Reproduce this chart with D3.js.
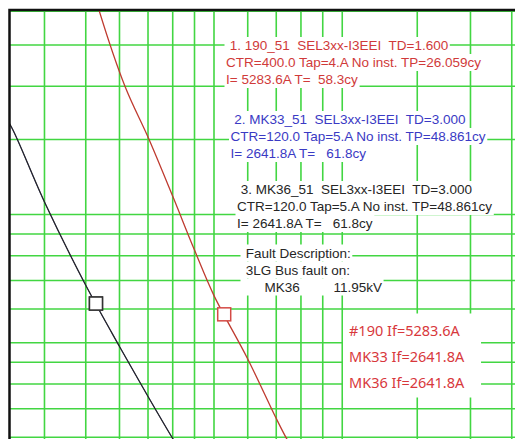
<!DOCTYPE html>
<html>
<head>
<meta charset="utf-8">
<script src="https://cdn.jsdelivr.net/npm/d3@7"></script>
<style>
  html, body { margin: 0; padding: 0; background: #fff; }
  svg { display: block; }
  text { white-space: pre; }
</style>
</head>
<body>
<svg id="chart"></svg>
<script>
// grid lines: current in A, time in cycles (log-log TCC)
const currentTicks = [2000, 2500, 3000, 3500, 4000, 4500, 5000, 6000, 7000, 8000, 9000, 10000, 15000, 20000, 25000];
const timeTicks = [300, 250, 200, 150, 100, 90, 80, 70, 60, 50, 45, 40, 35, 30];

// relay curves: [current A, time cy]
const curve190 = [[2620, 330], [2685, 302], [3090, 200], [3520, 150], [4005, 110], [4500, 82.5],
  [5000, 64.5], [6000, 45.8], [7000, 33.2], [7415, 29.7], [7700, 28]];
const curveMK33 = [[1600, 172], [1675, 160], [2000, 107], [2500, 68.2], [3000, 49], [3500, 37.4],
  [4000, 29.8], [4200, 27.6]];
const curveMK36 = [[1600, 172], [1675, 160], [2000, 107], [2500, 68.2], [3000, 49], [3500, 37.4],
  [4000, 29.8], [4200, 27.6]];

// operating points at the fault
const opCurrents = [5283.6, 2641.8, 2641.8];
const opTimes = [58.3, 61.8, 61.8];

const label190 = [" 1. 190_51  SEL3xx-I3EEI  TD=1.600", "CTR=400.0 Tap=4.A No inst. TP=26.059cy", "I= 5283.6A T=  58.3cy"];
const labelMK33 = [" 2. MK33_51  SEL3xx-I3EEI  TD=3.000", "CTR=120.0 Tap=5.A No inst. TP=48.861cy", "I= 2641.8A T=   61.8cy"];
const labelMK36 = [" 3. MK36_51  SEL3xx-I3EEI  TD=3.000", "CTR=120.0 Tap=5.A No inst. TP=48.861cy", "I= 2641.8A T=   61.8cy"];
const faultDesc = [" Fault Description:", " 3LG Bus fault on:", "      MK36         11.95kV"];
const faultCurrents = ["#190 If=5283.6A", "MK33 If=2641.8A", "MK36 If=2641.8A"];

const width = 515;
const height = 439;
const frame = { left: 9.5, top: 10 };
const colors = { red: "#bf3b30", blue: "#3a3ac4", black: "#262626", grid: "#42d642" };

const svg = d3.select("#chart").attr("width", width).attr("height", height);

const x = d3.scaleLog().domain([5000, 50000]).range([214, 640]);
const y = d3.scaleLog().domain([100, 1000]).range([214.5, 214.5 - 426]);

svg.append("defs").append("clipPath").attr("id", "plot")
  .append("rect")
  .attr("x", frame.left).attr("y", frame.top)
  .attr("width", width - frame.left).attr("height", height - frame.top);

const plot = svg.append("g").attr("clip-path", "url(#plot)");

// grid
plot.append("g").selectAll("line").data(currentTicks).join("line")
  .attr("x1", (d) => x(d)).attr("x2", (d) => x(d))
  .attr("y1", frame.top).attr("y2", height)
  .attr("stroke", colors.grid).attr("stroke-width", 1.6);

plot.append("g").selectAll("line").data(timeTicks).join("line")
  .attr("y1", (d) => y(d)).attr("y2", (d) => y(d))
  .attr("x1", frame.left).attr("x2", width)
  .attr("stroke", colors.grid).attr("stroke-width", 1.6);

// curves (MK33 sits under MK36, same settings)
const line = d3.line()
  .x((d) => x(d[0]))
  .y((d) => y(d[1]))
  .curve(d3.curveCatmullRom);

const curves = [
  { data: curve190, color: colors.red, w: 1.3 },
  { data: curveMK33, color: colors.blue, w: 0.8 },
  { data: curveMK36, color: colors.black, w: 1.3 },
];

plot.append("g").selectAll("path").data(curves).join("path")
  .attr("d", (d) => line(d.data))
  .attr("fill", "none")
  .attr("stroke", (d) => d.color)
  .attr("stroke-width", (d) => d.w);

// operating point markers
const size = 13;
plot.append("g").selectAll("rect").data(opCurrents).join("rect")
  .attr("x", (d) => x(d) - size / 2)
  .attr("y", (d, i) => y(opTimes[i]) - size / 2)
  .attr("width", size).attr("height", size)
  .attr("fill", "#fff")
  .attr("stroke", (d, i) => (i === 0 ? "#d44a45" : "#333"))
  .attr("stroke-width", 1.5);

// frame (left and top edges only, the rest is cropped)
svg.append("path")
  .attr("d", `M${frame.left},${height} V${frame.top} H${width}`)
  .attr("fill", "none")
  .attr("stroke", "#111")
  .attr("stroke-width", 2.5);

// text blocks with white backing per line
function drawBlock({ lines, left, top, step, color, font, size, pad }) {
  const g = svg.append("g");
  lines.forEach((t, i) => {
    const row = g.append("g");
    const rect = row.append("rect").attr("fill", "#fff");
    const txt = row.append("text")
      .attr("x", left)
      .attr("y", top + i * step)
      .attr("fill", color)
      .attr("font-family", font)
      .attr("font-size", size)
      .text(t);
    const b = txt.node().getBBox();
    rect.attr("x", b.x - pad).attr("y", b.y - 1)
      .attr("width", b.width + pad * 2).attr("height", b.height + 2);
  });
}

const arial = "'Liberation Sans', Arial, sans-serif";
drawBlock({ lines: label190, left: 226, top: 50, step: 17, color: "#d03a3a", font: arial, size: 13.5, pad: 1.5 });
drawBlock({ lines: labelMK33, left: 230.5, top: 124, step: 17, color: colors.blue, font: arial, size: 13.5, pad: 1.5 });
drawBlock({ lines: labelMK36, left: 237, top: 194, step: 17, color: colors.black, font: arial, size: 13.5, pad: 1.5 });
drawBlock({ lines: faultDesc, left: 242, top: 257.5, step: 17, color: colors.black, font: arial, size: 13.5, pad: 1.5 });

// fault current note
const note = svg.append("g");
const noteBox = note.append("rect").attr("fill", "#fff");
note.selectAll("text").data(faultCurrents).join("text")
  .attr("x", 349)
  .attr("y", (d, i) => 335.5 + i * 26)
  .attr("fill", "#d8383c")
  .attr("font-family", "'Noto Sans', 'Open Sans', sans-serif")
  .attr("font-size", 14.5)
  .text((d) => d);
const nb = note.node().getBBox();
noteBox.attr("x", nb.x - 6).attr("y", nb.y - 6)
  .attr("width", nb.width + 22).attr("height", nb.height + 12);
</script>
</body>
</html>
